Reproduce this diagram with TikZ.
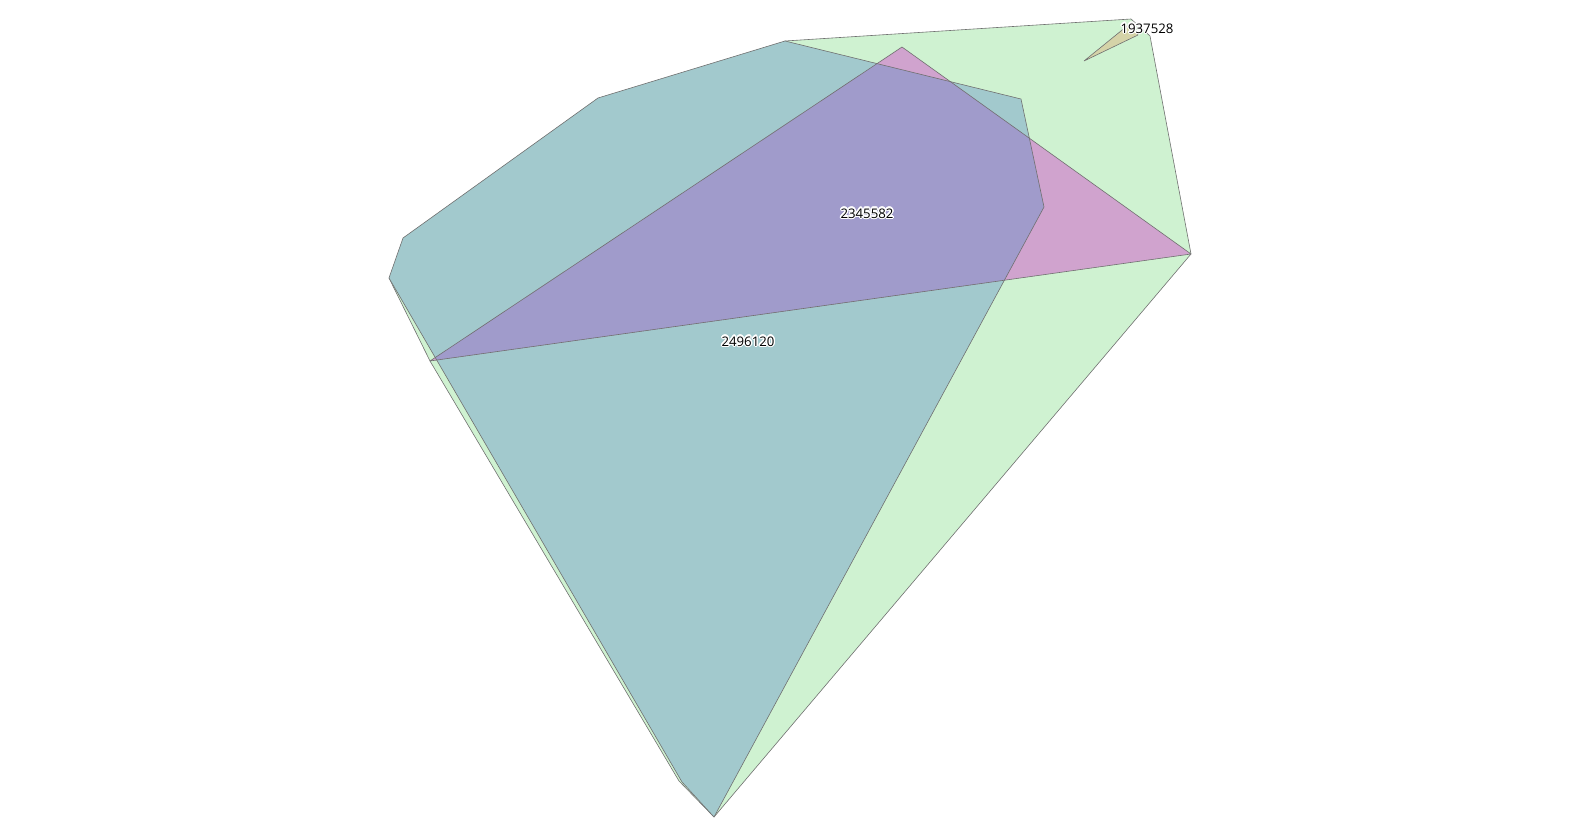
\documentclass[tikz,border=0pt]{standalone}
\usepackage{fontspec}
\setmainfont{Open Sans}
\usepackage{contour}
\contourlength{1.3pt}
\usetikzlibrary{positioning}

\definecolor{hullgreen}{HTML}{CFF2D1}
\definecolor{zoneblue}{HTML}{A2C9CD}
\definecolor{zonepink}{HTML}{D0A3CE}
\definecolor{zonepurple}{HTML}{A09BCB}
\definecolor{zonetan}{HTML}{D5D3A8}
\definecolor{edgegray}{HTML}{707070}

\begin{document}
\begin{tikzpicture}[
    x=1pt, y=-1pt,
    every node/.style={font=\fontsize{13.2}{15}\selectfont, inner sep=0pt},
    region/.style={draw=edgegray, line width=0.6pt, line join=round},
    idlabel/.style={text=black},
]

\useasboundingbox (0,0) rectangle (1580,837);

% Corners
\coordinate (w) at (389,278);
\coordinate (wl) at (430,361);
\coordinate (nw) at (403,238);
\coordinate (nn) at (598,98);
\coordinate (top) at (785,41);
\coordinate (ne) at (1131,19);
\coordinate (ne2) at (1150,36);
\coordinate (east) at (1191,254);
\coordinate (bot) at (714,817);
\coordinate (bot2) at (682,782);
\coordinate (botg) at (679,781);
\coordinate (rb1) at (1021,99);
\coordinate (rb2) at (1044,207);
\coordinate (peak) at (902,47);

% Regions
\filldraw[region, fill=hullgreen] (w) -- (top) -- (ne) -- (ne2) -- (east) -- (bot) -- (botg) -- (wl) -- cycle;
\fill[fill=zoneblue] (w) -- (nw) -- (nn) -- (top) -- (rb1) -- (rb2) -- (bot) -- (bot2) -- cycle;
\fill[fill=zonepink] (wl) -- (peak) -- (east) -- cycle;
\begin{scope}
  \clip (w) -- (nw) -- (nn) -- (top) -- (rb1) -- (rb2) -- (bot) -- (bot2) -- cycle;
  \fill[fill=zonepurple] (wl) -- (peak) -- (east) -- cycle;
\end{scope}
\draw[region] (wl) -- (peak) -- (east) -- cycle;
\draw[region] (w) -- (nw) -- (nn) -- (top) -- (rb1) -- (rb2) -- (bot) -- (bot2) -- cycle;
\filldraw[region, fill=zonetan] (1084,61) -- (1132,22) -- (1138,35) -- cycle;

% Labels
\node[idlabel] (r2345582) at (867,214) {\contour{white}{2345582}};
\node[idlabel] (r2496120) at (748,342) {\contour{white}{2496120}};
\node[idlabel] (r1937528) at (1147,29) {\contour{white}{1937528}};

\end{tikzpicture}
\end{document}
